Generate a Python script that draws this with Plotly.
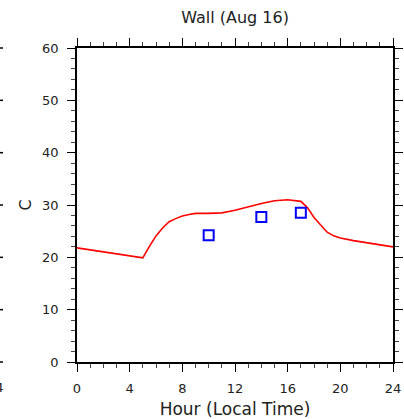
import plotly.graph_objects as go

# Data
hours = [0, 1, 2, 3, 4, 5, 5.5, 6, 6.5, 7, 7.5, 8, 8.5, 9, 10, 11, 12, 13, 14, 15, 16, 17,
         17.5, 18, 18.5, 19, 19.5, 20, 21, 22, 23, 24]
wall_model = [21.8, 21.4, 21.0, 20.7, 20.3, 19.9, 22.1, 24.1, 25.6, 26.8, 27.4, 27.9, 28.2,
              28.4, 28.4, 28.5, 29.0, 29.7, 30.3, 30.8, 31.0, 30.7, 29.5, 27.6, 26.1, 24.8,
              24.1, 23.7, 23.2, 22.8, 22.4, 22.0]
obs_hours = [10, 14, 17]
obs_values = [24.2, 27.7, 28.5]
x_ticks = [0, 4, 8, 12, 16, 20, 24]
y_ticks = [0, 10, 20, 30, 40, 50, 60]

FONT = "DejaVu Sans"

fig = go.Figure()
fig.add_trace(go.Scatter(x=hours, y=wall_model, mode="lines",
                         line=dict(color="#ff0000", width=1.6), showlegend=False))
fig.add_trace(go.Scatter(x=obs_hours, y=obs_values, mode="markers",
                         marker=dict(symbol="square-open", size=10,
                                     color="#0000ff", line=dict(width=2, color="#0000ff")),
                         showlegend=False))

axis_common = dict(showline=True, linecolor="black", linewidth=1.5, mirror="ticks",
                   ticks="outside", ticklen=8, tickwidth=1.3, tickcolor="black",
                   showgrid=False, zeroline=False, automargin=False,
                   tickfont=dict(family=FONT, size=13, color="#222"))

fig.update_xaxes(range=[0, 24], tickvals=x_ticks, ticktext=[str(v) for v in x_ticks],
                 minor=dict(dtick=1, tick0=0, ticklen=4, tickwidth=1, tickcolor="#444", ticks="outside"),
                 title=dict(text="Hour (Local Time)", font=dict(family=FONT, size=17, color="#222"),
                            standoff=9),
                 ticklabelstandoff=6,
                 **axis_common)
fig.update_yaxes(range=[0, 60], tickvals=y_ticks, ticktext=[str(v) for v in y_ticks],
                 minor=dict(dtick=2, tick0=0, ticklen=4, tickwidth=1, tickcolor="#444", ticks="outside"),
                 title=dict(text="C", font=dict(family=FONT, size=16, color="#222"), standoff=7),
                 ticklabelstandoff=6,
                 **axis_common)

# neighbouring panel's right-axis ticks cut at the left edge
L, R, T, B = 77, 11, 48, 57
W, H = 404, 419
pw = W - L - R
shapes = []
for v in y_ticks:
    yp = v / 60
    shapes.append(dict(type="line", xref="paper", yref="paper",
                       x0=(-6 - L) / pw, x1=(3 - L) / pw, y0=yp, y1=yp,
                       line=dict(color="black", width=1.5)))
fig.update_layout(shapes=shapes)
fig.add_annotation(text="24", xref="paper", yref="paper", x=(-5 - L) / pw, y=0,
                   yshift=-25, showarrow=False, xanchor="center", yanchor="middle",
                   font=dict(family=FONT, size=13, color="#222"))

fig.update_layout(
    width=W, height=H, autosize=False,
    margin=dict(l=L, r=R, t=T, b=B, autoexpand=False),
    paper_bgcolor="white", plot_bgcolor="white",
    title=dict(text="Wall (Aug 16)", x=0.5, xanchor="center", xref="paper",
               y=1 - 17 / H, yanchor="middle",
               font=dict(family=FONT, size=16, color="#222")),
)

fig.write_html("out.html", config={"responsive": False, "displayModeBar": False},
               post_script="document.body.style.margin='0px';document.body.style.overflow='hidden';")
